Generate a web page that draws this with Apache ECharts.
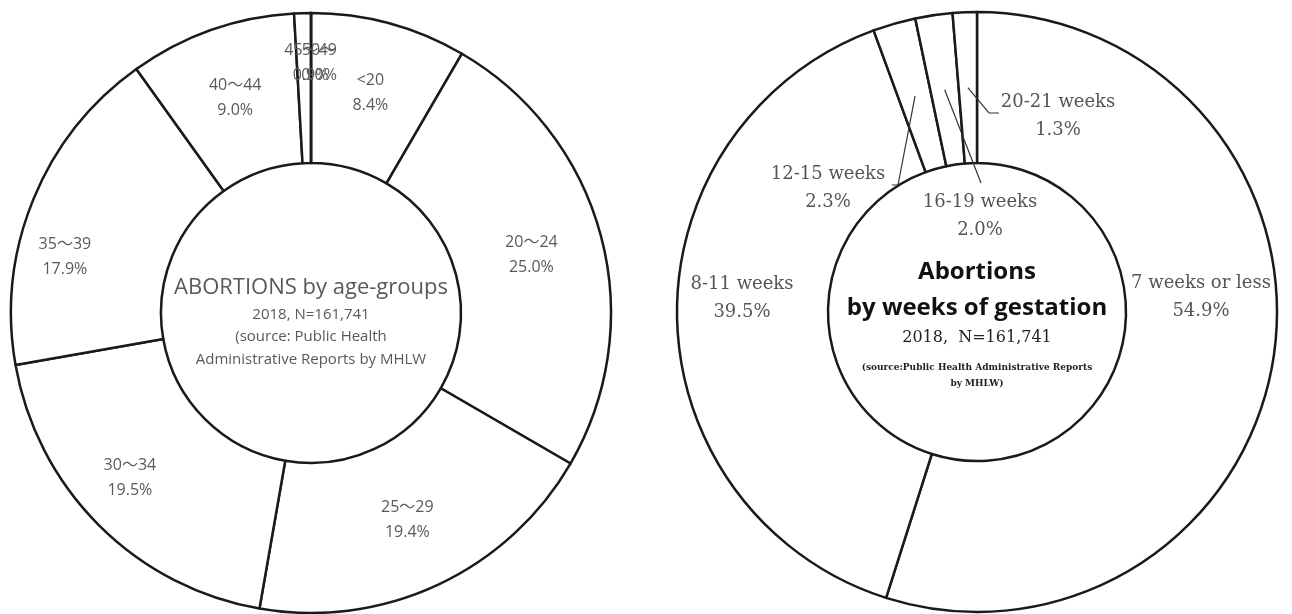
<!DOCTYPE html>
<html>
<head>
<meta charset="utf-8">
<script src="https://cdn.jsdelivr.net/npm/echarts@6/dist/echarts.min.js"></script>
<style>
html,body{margin:0;padding:0;background:#fff;}
#c{width:1292px;height:614px;}
</style>
</head>
<body>
<div id="c"></div>
<script>
// Left donut: abortions by age group (percent)
const ageGroups = ['<20', '20～24', '25～29', '30～34', '35～39', '40～44', '45～49', '50～'];
const agePercents = [8.4, 25.0, 19.4, 19.5, 17.9, 9.0, 0.9, 0.0];

// Right donut: abortions by weeks of gestation (percent)
const weekGroups = ['7 weeks or less', '8-11 weeks', '12-15 weeks', '16-19 weeks', '20-21 weeks'];
const weekPercents = [54.9, 39.5, 2.3, 2.0, 1.3];

const leftTitle = 'ABORTIONS by age-groups';
const leftSub = ['2018, N=161,741', '(source: Public Health', 'Administrative Reports by MHLW'];
const rightTitle = ['Abortions', 'by weeks of gestation'];
const rightSub = '2018,  N=161,741';
const rightSource = ['(source:Public Health Administrative Reports', 'by MHLW)'];

const chart = echarts.init(document.getElementById('c'), null, {renderer: 'canvas'});

const sansFont = '"Open Sans", "Noto Sans CJK JP", sans-serif';
const serifFont = '"DejaVu Serif", "Liberation Serif", serif';
const grey = '#595959';
const ring = {color: '#ffffff', borderColor: '#1a1a1a', borderWidth: 2.5};

const L = {cx: 311, cy: 313, r0: 150, r1: 300};
const R = {cx: 977, cy: 312, r0: 149, r1: 300};

// label offsets for the left donut (tweak of default inside positions)
const leftOffsets = {4: [-35, 30], 3: [-20, 4], 6: [6, -22], 7: [8, -22]};
// label positions for the right donut
const rightPos = {0: [1201, 297], 1: [742, 298], 2: [828, 188], 3: [980, 216], 4: [1058, 116]};
// leader-line bends/ends (label side) for the small right slices
const rightLeaderEnds = {
  2: [[898, 185], [892, 185]],
  3: [[981, 183]],
  4: [[989, 113], [999, 113]]
};

function sliceMidPoint(values, idx, g, r) {
  const total = values.reduce((a, b) => a + b, 0);
  let before = 0;
  for (let i = 0; i < idx; i++) before += values[i];
  const ang = (before + values[idx] / 2) / total * 2 * Math.PI;
  return [g.cx + r * Math.sin(ang), g.cy - r * Math.cos(ang)];
}

const leaders = Object.keys(rightLeaderEnds).map(k => {
  const idx = +k;
  const start = sliceMidPoint(weekPercents, idx, R, (R.r0 + R.r1) / 2);
  return {
    type: 'polyline', silent: true, z: 10,
    shape: {points: [start].concat(rightLeaderEnds[k])},
    style: {stroke: '#333', lineWidth: 1.2, fill: null}
  };
});

const leftData = ageGroups.map((n, i) => ({name: n, value: agePercents[i]}));
const rightData = weekGroups.map((n, i) => ({name: n, value: weekPercents[i]}));

const centerText = (x, y, text, font, fill) => ({
  type: 'text', x, y, silent: true,
  style: {text, fill, font, textAlign: 'center', textVerticalAlign: 'middle'}
});

const option = {
  animation: false,
  backgroundColor: '#fff',
  series: [
    {
      type: 'pie', center: [L.cx, L.cy], radius: [L.r0, L.r1],
      startAngle: 90, clockwise: true, minAngle: 0, avoidLabelOverlap: false,
      itemStyle: ring,
      emphasis: {disabled: true},
      label: {
        show: true, position: 'inside', color: grey, fontFamily: sansFont, fontSize: 16, lineHeight: 25,
        formatter: p => p.name + '\n' + p.value.toFixed(1) + '%'
      },
      labelLine: {show: false},
      labelLayout: p => {
        const o = leftOffsets[p.dataIndex];
        return o ? {dx: o[0], dy: o[1]} : {};
      },
      data: leftData
    },
    {
      type: 'pie', center: [R.cx, R.cy], radius: [R.r0, R.r1],
      startAngle: 90, clockwise: true, avoidLabelOverlap: false,
      itemStyle: ring,
      emphasis: {disabled: true},
      label: {
        show: true, position: 'inside', color: '#555', fontFamily: serifFont, fontSize: 18, lineHeight: 28,
        formatter: p => p.name + '\n' + p.value.toFixed(1) + '%'
      },
      labelLine: {show: false},
      labelLayout: p => {
        const pos = rightPos[p.dataIndex];
        return pos ? {x: pos[0], y: pos[1], align: 'center', verticalAlign: 'middle'} : {};
      },
      data: rightData
    }
  ],
  graphic: leaders.concat([
    centerText(L.cx, 288, leftTitle, '22px ' + sansFont, grey),
    centerText(L.cx, 315, leftSub[0], '15px ' + sansFont, grey),
    centerText(L.cx, 337, leftSub[1], '15px ' + sansFont, grey),
    centerText(L.cx, 360, leftSub[2], '15px ' + sansFont, grey),
    centerText(R.cx, 272, rightTitle[0], 'bold 24px ' + sansFont, '#111'),
    centerText(R.cx, 308, rightTitle[1], 'bold 24px ' + sansFont, '#111'),
    centerText(R.cx, 338, rightSub, '16px ' + serifFont, '#222'),
    centerText(R.cx, 368, rightSource[0], 'bold 9px ' + serifFont, '#222'),
    centerText(R.cx, 384, rightSource[1], 'bold 9px ' + serifFont, '#222')
  ])
};
chart.setOption(option);
</script>
</body>
</html>
